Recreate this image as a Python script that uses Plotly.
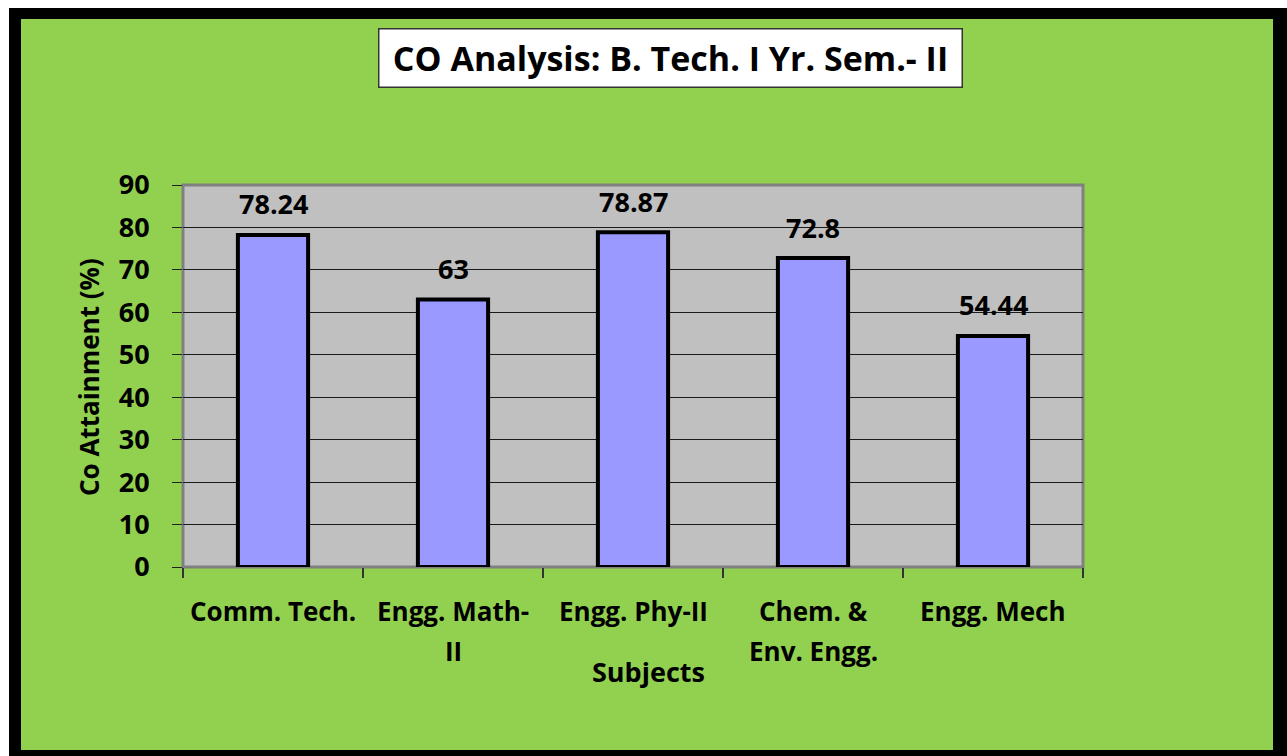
import plotly.graph_objects as go

# Subject-wise course outcome attainment
subjects = ["Comm. Tech.", "Engg. Math-II", "Engg. Phy-II", "Chem. & Env. Engg.", "Engg. Mech"]
subject_labels = [["Comm. Tech."], ["Engg. Math-", "II"], ["Engg. Phy-II"],
                  ["Chem. &", "Env. Engg."], ["Engg. Mech"]]
attainment = [78.24, 63, 78.87, 72.8, 54.44]
value_labels = ["78.24", "63", "78.87", "72.8", "54.44"]
y_ticks = [0, 10, 20, 30, 40, 50, 60, 70, 80, 90]

W, H = 1287, 756
L, R, T, B = 183, 204, 185, 189
PW, PH = W - L - R, H - T - B

FONT = "Open Sans"
GREEN = "#92D050"


def px_x(x):
    return (x - L) / PW


def px_y(y):
    return (H - B - y) / PH


def bold(size):
    return dict(family=FONT, size=size, color="black", weight="bold")


fig = go.Figure()
fig.add_trace(go.Bar(
    x=subjects, y=attainment, width=0.39,
    marker=dict(color="#9999FF", line=dict(color="black", width=4)),
    hoverinfo="x+y",
))

shapes = [
    # black frame and green chart area
    dict(type="rect", xref="paper", yref="paper", x0=px_x(9), x1=px_x(1300),
         y0=px_y(8), y1=px_y(770), fillcolor="black", line=dict(width=0), layer="below"),
    dict(type="rect", xref="paper", yref="paper", x0=px_x(21), x1=px_x(1273),
         y0=px_y(19), y1=px_y(750), fillcolor=GREEN, line=dict(width=0), layer="below"),
    # grey plot area with border
    dict(type="rect", xref="paper", yref="paper", x0=0, x1=1, y0=0, y1=1,
         fillcolor="#C0C0C0", line=dict(color="#808080", width=3), layer="below"),
]

annotations = []
# value labels above bars
for s, v, t in zip(subjects, attainment, value_labels):
    annotations.append(dict(x=s, y=v, xref="x", yref="y", text=t, showarrow=False,
                            yanchor="middle", yshift=31, font=bold(27)))
# category labels (wrapped)
for s, lines in zip(subjects, subject_labels):
    for i, line in enumerate(lines):
        annotations.append(dict(x=s, y=0, xref="x", yref="paper",
                                text=line, showarrow=False,
                                yanchor="middle", yshift=-(44 + 40 * i), font=bold(26)))
# axis titles
annotations.append(dict(x=px_x(648), y=px_y(671), xref="paper", yref="paper", text="Subjects",
                        showarrow=False, xanchor="center", yanchor="middle", font=bold(27)))
annotations.append(dict(x=px_x(89), y=px_y(377), xref="paper", yref="paper",
                        text="Co Attainment (%)", textangle=-90, showarrow=False,
                        xanchor="center", yanchor="middle", font=bold(26)))
# chart title in a white box
annotations.append(dict(x=px_x(670), y=px_y(58), xref="paper", yref="paper",
                        text="CO Analysis: B. Tech. I Yr. Sem.- II", showarrow=False,
                        xanchor="center", yanchor="middle",
                        bgcolor="white", bordercolor="#333333", borderwidth=1.5,
                        width=580, height=55, borderpad=1, font=bold(34)))

fig.update_layout(
    width=W, height=H,
    margin=dict(l=L, r=R, t=T, b=B, pad=0),
    paper_bgcolor="white",
    plot_bgcolor="rgba(0,0,0,0)",
    showlegend=False,
    shapes=shapes,
    annotations=annotations,
    bargap=0.6,
)
fig.update_xaxes(
    type="category", showticklabels=False, tickson="boundaries",
    ticks="outside", ticklen=10, tickcolor="#333333", tickwidth=1.5,
    showgrid=False, showline=False, zeroline=False,
)
fig.update_yaxes(
    range=[0, 90], tickvals=y_ticks, ticks="outside", ticklen=10,
    tickcolor="#222222", tickwidth=1.2,
    showgrid=True, gridcolor="#1a1a1a", gridwidth=1,
    zeroline=False, showline=False, ticklabelstandoff=17,
    tickfont=bold(27),
)

fig.write_html("out.html")
